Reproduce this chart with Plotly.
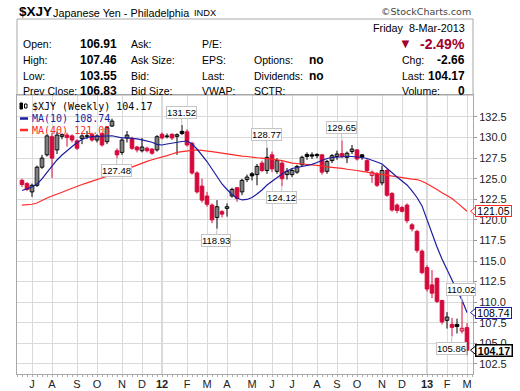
import plotly.graph_objects as go
import pandas as pd

# ---------------- data (weekly, week-start Mondays) ----------------
weeks = pd.date_range("2011-06-20", periods=90, freq="W-MON")

opens = [124.8, 124.4, 123.4, 124.2, 126.4, 127.9, 130.1, 128.5, 130.15, 130.3,
         130.2, 129.6, 129.9, 130.15, 130.4, 129.7, 130.5, 129.5, 131.4, 128.4,
         128.2, 129.95, 129.9, 128.85, 128.4, 128.7, 128.6, 128.5, 130.4, 130.1,
         130.4, 130.15, 130.75, 130.7, 129.3, 125.7, 124.1, 122.9, 121.8, 120.3,
         121.0, 121.4, 122.9, 123.9, 123.4, 124.9, 125.6, 125.5, 126.9, 126.0,
         127.9, 125.9, 126.9, 125.5, 125.5, 125.8, 126.7, 127.95, 127.9, 127.95,
         127.9, 125.9, 127.2, 127.7, 128.05, 127.6, 128.3, 128.5, 127.9, 127.2,
         125.4, 125.6, 124.5, 126.0, 123.2, 121.8, 121.5, 121.8, 119.4, 118.6,
         116.2, 114.2, 112.1, 112.9, 110.2, 107.8, 107.3, 107.3, 106.5, 106.91]
highs = [125.0, 124.6, 124.4, 126.6, 127.9, 130.4, 130.6, 130.7, 130.5, 130.6,
         130.4, 129.8, 130.4, 130.8, 130.6, 130.4, 130.6, 131.4, 132.3, 128.7,
         129.9, 130.8, 130.1, 129.0, 129.95, 128.9, 128.7, 130.3, 130.6, 130.5,
         130.5, 130.5, 131.52, 131.0, 129.5, 125.9, 125.0, 123.4, 122.0, 122.4,
         121.2, 122.0, 123.9, 124.0, 125.0, 125.5, 125.8, 126.8, 127.2, 128.77,
         128.3, 127.5, 127.2, 126.3, 126.3, 126.7, 127.8, 128.2, 128.2, 128.1,
         128.0, 127.3, 128.0, 128.4, 129.65, 128.3, 129.1, 128.6, 128.0, 127.4,
         126.0, 125.8, 126.6, 126.2, 123.4, 122.0, 121.7, 122.0, 119.6, 118.8,
         116.4, 114.5, 113.9, 113.0, 110.3, 108.8, 108.1, 108.0, 110.02, 107.46]
lows = [124.0, 123.5, 122.8, 124.0, 126.2, 127.7, 125.1, 128.0, 129.8, 128.9,
        129.4, 128.5, 129.2, 129.8, 129.5, 129.4, 128.9, 129.2, 131.3, 127.48,
        127.9, 129.4, 128.5, 128.2, 128.2, 128.2, 127.9, 128.3, 129.8, 129.9,
        129.7, 127.9, 130.3, 128.9, 125.5, 123.2, 122.1, 121.6, 119.6, 118.93,
        120.3, 120.4, 122.7, 122.2, 123.0, 124.6, 124.8, 124.2, 125.8, 125.6,
        125.8, 125.6, 124.12, 124.9, 125.2, 125.6, 126.5, 127.3, 127.4, 127.5,
        125.5, 125.6, 126.9, 127.3, 127.5, 126.9, 128.0, 127.2, 127.3, 125.8,
        124.5, 124.0, 124.2, 122.8, 121.0, 120.8, 120.9, 119.6, 118.6, 116.0,
        113.4, 111.3, 110.5, 109.9, 107.3, 106.8, 105.86, 106.2, 106.2, 103.55]
closes = [124.3, 123.7, 124.2, 126.4, 127.5, 130.2, 127.5, 130.3, 130.35, 130.0,
          129.7, 128.7, 130.2, 130.22, 129.7, 130.2, 129.1, 131.2, 132.0, 127.9,
          129.7, 130.3, 128.7, 128.5, 128.85, 128.4, 128.1, 130.1, 129.95, 130.2,
          129.95, 130.35, 130.5, 129.1, 125.7, 123.4, 122.4, 121.9, 120.0, 121.6,
          120.7, 121.6, 123.7, 122.6, 124.8, 125.2, 125.35, 126.5, 126.0, 127.6,
          126.2, 127.2, 125.0, 125.9, 126.0, 126.5, 127.6, 127.7, 127.75, 127.8,
          125.8, 127.1, 127.8, 128.0, 127.7, 128.1, 128.6, 127.4, 127.6, 126.0,
          125.8, 124.2, 126.0, 123.0, 121.2, 121.15, 121.05, 119.9, 118.9, 116.3,
          113.6, 111.6, 111.1, 110.1, 107.6, 108.2, 106.95, 107.05, 106.83, 104.17]
ma10 = [123.57, 123.75, 124.0, 124.36, 124.97, 125.76, 126.55, 127.28, 127.88, 128.39,
        128.92, 129.4, 129.77, 130.01, 130.11, 130.11, 130.13, 130.19, 130.22, 130.07,
        129.97, 129.95, 129.91, 129.83, 129.71, 129.58, 129.43, 129.18, 129.1, 129.22,
        129.34, 129.44, 129.52, 129.58, 129.22, 128.61, 127.88, 127.09, 126.18, 125.21,
        124.36, 123.69, 123.08, 122.66, 122.42, 122.48, 122.72, 123.14, 123.63, 124.24,
        124.72, 125.15, 125.57, 125.94, 126.24, 126.36, 126.49, 126.61, 126.75, 126.97,
        127.21, 127.46, 127.58, 127.64, 127.68, 127.7, 127.7, 127.68, 127.58, 127.46,
        127.28, 127.03, 126.79, 126.24, 125.76, 125.21, 124.72, 124.24, 123.51, 122.72,
        121.7, 120.0, 118.3, 116.7, 115.25, 113.91, 112.57, 111.42, 110.27, 108.74]
ma40 = [121.8, 121.85, 121.9, 122.05, 122.4, 122.65, 122.9, 123.1, 123.35, 123.6,
        123.85, 124.1, 124.3, 124.5, 124.7, 124.9, 125.05, 125.25, 125.45, 125.7,
        125.95, 126.2, 126.45, 126.7, 126.9, 127.1, 127.3, 127.45, 127.6, 127.8,
        128.0, 128.2, 128.3, 128.4, 128.45, 128.5, 128.45, 128.4, 128.3, 128.2,
        128.1, 128.0, 127.9, 127.85, 127.75, 127.7, 127.6, 127.55, 127.5, 127.45,
        127.35, 127.3, 127.2, 127.05, 126.9, 126.85, 126.8, 126.75, 126.65, 126.6,
        126.55, 126.45, 126.4, 126.3, 126.25, 126.15, 126.1, 126.0, 125.9, 125.8,
        125.7, 125.6, 125.5, 125.4, 125.3, 125.2, 125.1, 125.05, 124.95, 124.9,
        124.7, 124.4, 124.1, 123.7, 123.3, 123.0, 122.6, 122.1, 121.6, 121.05]

callout_index = [32, 19, 39, 49, 52, 64, 88, 86]
callout_kind = ["high", "low", "low", "high", "low", "high", "high", "low"]

ytick_vals = [102.5, 105.0, 107.5, 110.0, 112.5, 115.0, 117.5, 120.0,
              122.5, 125.0, 127.5, 130.0, 132.5]
month_letters = ["J", "F", "M", "A", "M", "J", "J", "A", "S", "O", "N", "D"]

# ---------------- styling ----------------
RED = "#d6083b"
BLACK = "#000000"
MA10_C = "#1c1ca0"
MA40_C = "#ff2a2a"
FONT = "Liberation Sans, Arial, sans-serif"
MONO = "DejaVu Sans Mono, monospace"

n = len(closes)
idx = list(range(n))

# plot area in pixels
L, R, T, B = 17, 473, 95, 374
W, H = 520, 391
YLO, YHI = 101.28, 135.17
UPP = (YHI - YLO) / (B - T)  # value units per pixel


def PX(x):
    return (x - L) / (R - L)


def PY(y):
    return (B - y) / (B - T)


prev = [opens[0]] + closes[:-1]
edge_col, fill_col = [], []
for o, c, p in zip(opens, closes, prev):
    col = BLACK if c >= p else RED
    edge_col.append(col)
    fill_col.append("#ffffff" if c > o else col)

fig = go.Figure()

# wicks
for col in (RED, BLACK):
    xs, ys = [], []
    for i in idx:
        if edge_col[i] == col:
            xs += [i, i, None]
            ys += [lows[i], highs[i], None]
    fig.add_trace(go.Scatter(x=xs, y=ys, mode="lines",
                             line=dict(color=col, width=1), hoverinfo="skip"))

# bodies
fig.add_trace(go.Bar(
    x=idx,
    y=[abs(c - o) for o, c in zip(opens, closes)],
    base=[min(o, c) for o, c in zip(opens, closes)],
    width=0.72,
    marker=dict(color=fill_col, line=dict(color=edge_col, width=1)),
    hoverinfo="skip"))

# moving averages
fig.add_trace(go.Scatter(x=idx, y=ma40, mode="lines",
                         line=dict(color=MA40_C, width=1.2), hoverinfo="skip"))
fig.add_trace(go.Scatter(x=idx, y=ma10, mode="lines",
                         line=dict(color=MA10_C, width=1.2), hoverinfo="skip"))

# month ticks
tickvals, ticktext, year_ticks = [], [], []
for i in range(1, n):
    if weeks[i].month != weeks[i - 1].month:
        tickvals.append(i)
        if weeks[i].month == 1:
            ticktext.append("<b>%s</b>" % weeks[i].strftime("%y"))
            year_ticks.append(i)
        else:
            ticktext.append(month_letters[weeks[i].month - 1])

shapes = []
for i in year_ticks:
    shapes.append(dict(type="line", xref="x", yref="paper", x0=i, x1=i, y0=0, y1=1,
                       line=dict(color="#b4b4b4", width=1), layer="below"))

# info box
shapes.append(dict(type="rect", xref="paper", yref="paper",
                   x0=PX(17), x1=PX(473), y0=PY(95), y1=PY(19),
                   line=dict(color="#a8a8a8", width=1)))

ann = []


def text(x, y, s, size=10.5, color="#000", anchor="left", bold=False, family=FONT):
    ann.append(dict(xref="paper", yref="paper", x=PX(x), y=PY(y),
                    text=("<b>%s</b>" % s) if bold else s, showarrow=False,
                    xanchor=anchor, yanchor="middle",
                    font=dict(size=size, color=color, family=family)))


# title line
text(17, 12, "$XJY", size=13.5, bold=True)
text(50.5, 12.5, "Japanese Yen - Philadelphia", size=10.8)
text(191.5, 13, "INDX", size=9.3)
text(473, 12, "©StockCharts.com", size=9.5, color="#444", anchor="right",
     family="DejaVu Sans, Verdana, sans-serif")

# info box contents
text(467, 28, "Friday&nbsp;&nbsp;8-Mar-2013", size=10.8, anchor="right")
text(405, 44, "▼", size=13, color="#a0002a", anchor="center")
text(467, 44, "-2.49%", size=14, color="#a0002a", anchor="right", bold=True)

last_close = closes[-1]
rows_y = [44, 60, 76, 91]
col1 = ["Open:", "High:", "Low:", "Prev Close:"]
val1 = ["%.2f" % opens[-1], "%.2f" % highs[-1], "%.2f" % lows[-1], "%.2f" % closes[-2]]
col2 = ["Ask:", "Ask Size:", "Bid:", "Bid Size:"]
col3 = ["P/E:", "EPS:", "Last:", "VWAP:"]
col4 = ["", "Options:", "Dividends:", "SCTR:"]
val4 = ["", "no", "no", ""]
col5 = ["", "Chg:", "Last:", "Volume:"]
val5 = ["", "%.2f" % (closes[-1] - closes[-2]), "%.2f" % last_close, "0"]
for k, yy in enumerate(rows_y):
    text(20.5, yy, col1[k])
    text(119, yy, val1[k], size=12, anchor="right", bold=True)
    text(129, yy, col2[k])
    text(200, yy, col3[k])
    if col4[k]:
        text(252, yy, col4[k])
    if val4[k]:
        text(307, yy, val4[k], size=12, bold=True)
    if col5[k]:
        text(400, yy, col5[k])
        text(467, yy, val5[k], size=12, anchor="right", bold=True)

# chart legend
text(29.5, 106, "$XJY (Weekly) %.2f" % last_close, size=10, family=MONO)
text(29.5, 118.5, "MA(10) %.2f" % ma10[-1], size=10, color=MA10_C, family=MONO)
text(29.5, 130, "MA(40) %.2f" % ma40[-1], size=10, color=MA40_C, family=MONO)
shapes.append(dict(type="line", xref="paper", yref="paper", x0=PX(20), x1=PX(28),
                   y0=PY(118.5), y1=PY(118.5), line=dict(color=MA10_C, width=2.5)))
shapes.append(dict(type="line", xref="paper", yref="paper", x0=PX(20), x1=PX(28),
                   y0=PY(130), y1=PY(130), line=dict(color=MA40_C, width=2.5)))
# legend candle icon
shapes.append(dict(type="rect", xref="paper", yref="paper", x0=PX(20), x1=PX(22.5),
                   y0=PY(109), y1=PY(103), fillcolor="#000", line=dict(color="#000", width=1)))
shapes.append(dict(type="rect", xref="paper", yref="paper", x0=PX(24.5), x1=PX(27),
                   y0=PY(108), y1=PY(104), fillcolor="#fff", line=dict(color="#000", width=1)))

# callouts
for i, kind in zip(callout_index, callout_kind):
    v = highs[i] if kind == "high" else lows[i]
    ann.append(dict(xref="x", yref="y", x=i, y=v, text="%.2f" % v,
                    showarrow=True, arrowhead=0, arrowwidth=1, arrowcolor="#c4c4c4",
                    ax=-1, ay=-13 if kind == "high" else 12,
                    bordercolor="#c4c4c4", borderwidth=1, borderpad=0, bgcolor="#ffffff",
                    font=dict(size=9.5, color="#000", family=FONT)))

# right-side value tags (box + left-pointing notch)
tags = [(ma40[-1], MA40_C, False), (ma10[-1], MA10_C, False), (last_close, "#000", True)]
for v, col, bold in tags:
    dy = 4.5 * UPP
    shapes.append(dict(type="path", xref="paper", yref="y",
                       path="M %f,%f L %f,%f L %f,%f Z" % (PX(470.5), v, PX(476), v + dy,
                                                          PX(476), v - dy),
                       fillcolor="#ffffff", line=dict(color=col, width=1)))
    ann.append(dict(xref="paper", yref="y", x=PX(475.5), y=v,
                    text=("<b>%.2f</b>" if bold else "%.2f") % v, showarrow=False,
                    xanchor="left", yanchor="middle", bordercolor=col,
                    width=35, height=10, align="center", valign="middle",
                    borderwidth=1.5 if bold else 1, borderpad=0, bgcolor="#ffffff",
                    font=dict(size=10.5, color="#000", family=FONT)))

fig.update_layout(
    width=W, height=H,
    margin=dict(l=L, r=W - R, t=T, b=H - B, autoexpand=False),
    paper_bgcolor="#ffffff", plot_bgcolor="#ffffff",
    showlegend=False, hovermode=False, barmode="overlay",
    font=dict(family=FONT, size=11, color="#222"),
    shapes=shapes, annotations=ann,
    xaxis=dict(range=[-1, n + 0.2], tickvals=tickvals, ticktext=ticktext,
               showgrid=True, gridcolor="#dadada", gridwidth=1,
               showline=True, linecolor="#a8a8a8", mirror=True,
               ticks="", zeroline=False, automargin=False,
               tickfont=dict(size=11, color="#222", family=FONT),
               minor=dict(ticks="outside", ticklen=2, tickcolor="#b0b0b0",
                          dtick=1, tick0=0, showgrid=False)),
    yaxis=dict(range=[YLO, YHI], side="right", tickvals=ytick_vals,
               ticktext=["%.1f" % v for v in ytick_vals],
               showgrid=True, gridcolor="#dadada", gridwidth=1,
               showline=True, linecolor="#a8a8a8", mirror=True,
               ticks="outside", ticklen=3, tickcolor="#999", zeroline=False,
               automargin=False,
               tickfont=dict(size=11, color="#222", family=FONT)),
)

fig.write_html("out.html", config={"displayModeBar": False, "staticPlot": True},
               post_script="document.body.style.margin='0';document.body.style.padding='0';")
